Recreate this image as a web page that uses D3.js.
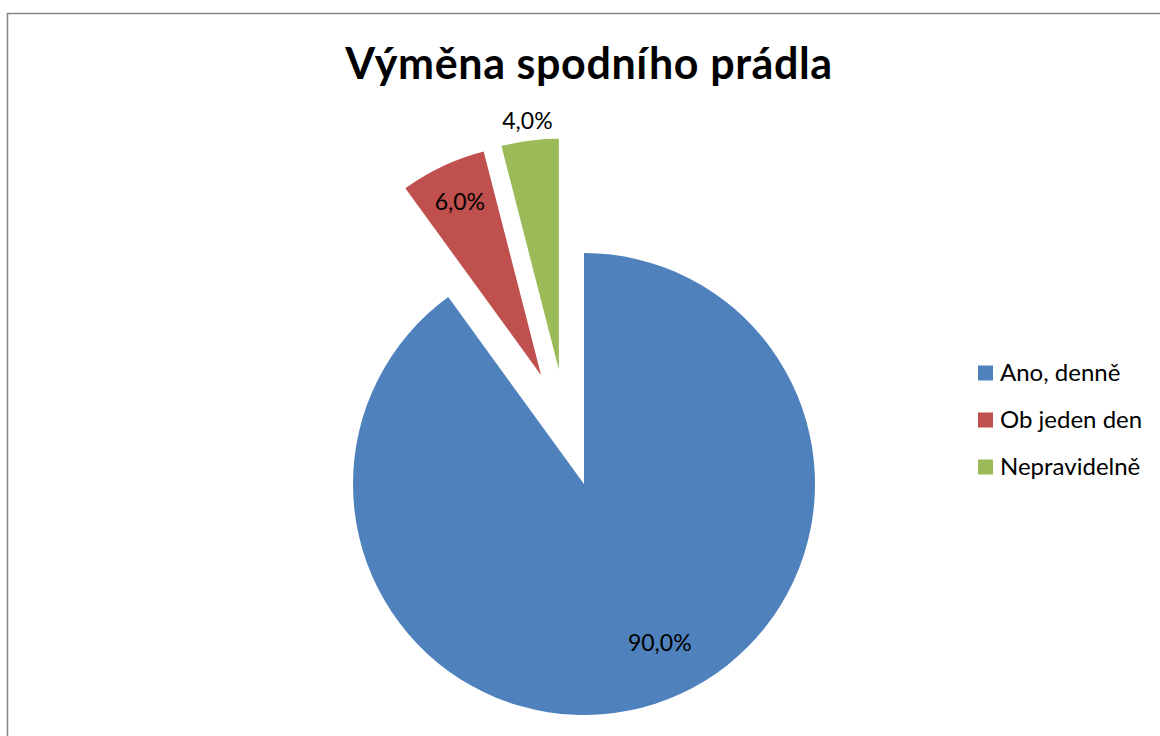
<!DOCTYPE html>
<html>
<head>
<meta charset="utf-8">
<script src="https://cdn.jsdelivr.net/npm/d3@7"></script>
<style>
  body { margin: 0; background: #fff; }
  svg { display: block; }
</style>
</head>
<body>
<svg id="chart"></svg>
<script>
// data
var titleText = "Výměna spodního prádla";
var categories = ["Ano, denně", "Ob jeden den", "Nepravidelně"];
var values = [90, 6, 4];
var colors = ["#4F81BD", "#C0504D", "#9BBB59"];

// explosion per slice (px, and a small angle tweak in degrees)
var explodeDist = [0, 117, 117];
var explodeShift = [0, 3.7, -5.2];
// label placement from slice tip
var labelR = [176, 191, 251];
var labelShift = [-7.5, 0, 0];

var width = 1160, height = 736;
var cx = 584, cy = 484, radius = 231;

var svg = d3.select('#chart')
    .attr('width', width)
    .attr('height', height);

// chart border (extends past the page)
svg.append('rect')
    .attr('x', 7.5)
    .attr('y', 13.5)
    .attr('width', 1300)
    .attr('height', 900)
    .attr('fill', 'none')
    .attr('stroke', '#868686')
    .attr('stroke-width', 1.5);

// title
svg.append('text')
    .attr('x', 589)
    .attr('y', 79)
    .attr('text-anchor', 'middle')
    .style('font-family', 'Lato, sans-serif')
    .style('font-weight', 'bold')
    .style('font-size', '43px')
    .style('letter-spacing', '0.6px')
    .text(titleText);

var pie = d3.pie().sort(null).value(function(d) { return d; });
var arcs = pie(values);
var arc = d3.arc().innerRadius(0).outerRadius(radius);

var fmt = function(v) {
    var total = d3.sum(values);
    return d3.format('.1f')(v / total * 100).replace('.', ',') + '%';
};

var g = svg.append('g')
    .attr('transform', 'translate(' + cx + ',' + cy + ')');

var slices = g.selectAll('.slice')
    .data(arcs)
    .enter()
    .append('g')
    .attr('class', 'slice')
    .attr('transform', function(d, i) {
        var a = (d.startAngle + d.endAngle) / 2 + explodeShift[i] * Math.PI / 180;
        var dx = Math.sin(a) * explodeDist[i];
        var dy = -Math.cos(a) * explodeDist[i];
        return 'translate(' + dx + ',' + dy + ')';
    });

slices.append('path')
    .attr('d', arc)
    .attr('fill', function(d, i) { return colors[i]; });

slices.append('text')
    .attr('x', function(d, i) {
        var a = (d.startAngle + d.endAngle) / 2 + labelShift[i] * Math.PI / 180;
        return Math.sin(a) * labelR[i];
    })
    .attr('y', function(d, i) {
        var a = (d.startAngle + d.endAngle) / 2 + labelShift[i] * Math.PI / 180;
        return -Math.cos(a) * labelR[i];
    })
    .attr('dy', '0.35em')
    .attr('text-anchor', 'middle')
    .style('font-family', 'Lato, sans-serif')
    .style('font-size', '23px')
    .attr('fill', '#000')
    .text(function(d) { return fmt(d.value); });

// legend
var legend = svg.append('g')
    .attr('transform', 'translate(978,373)');

var items = legend.selectAll('.item')
    .data(categories)
    .enter()
    .append('g')
    .attr('class', 'item')
    .attr('transform', function(d, i) { return 'translate(0,' + (i * 47) + ')'; });

items.append('rect')
    .attr('x', 0)
    .attr('y', -7.5)
    .attr('width', 15)
    .attr('height', 15)
    .attr('fill', function(d, i) { return colors[i]; });

items.append('text')
    .attr('x', 22)
    .attr('y', 0)
    .attr('dy', '0.35em')
    .style('font-family', 'Lato, sans-serif')
    .style('font-size', '24px')
    .attr('fill', '#000')
    .text(function(d) { return d; });
</script>
</body>
</html>
